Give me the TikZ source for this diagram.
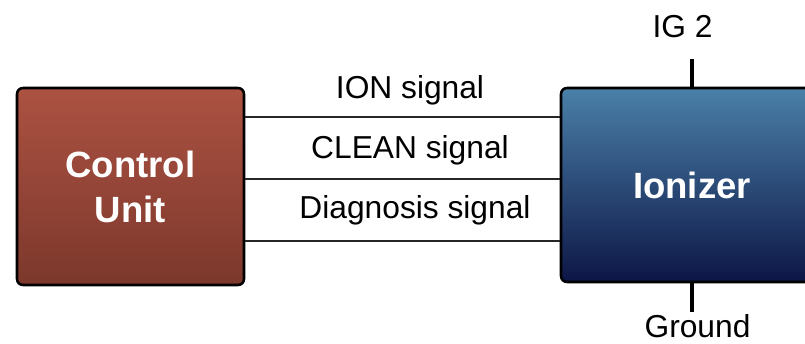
\documentclass[tikz,border=0pt]{standalone}
\usepackage{fontspec}
\setmainfont{Liberation Sans}
\usetikzlibrary{calc}

\definecolor{ctrlTop}{RGB}{172,82,66}
\definecolor{ctrlBot}{RGB}{124,56,44}
\definecolor{ionTop}{RGB}{74,128,168}
\definecolor{ionBot}{RGB}{13,22,70}

\tikzset{
  unitbox/.style={draw=black, line width=1.9pt, rounded corners=4.5pt,
    text=white, align=center, inner sep=0pt,
    font=\fontsize{27.4}{33.75}\selectfont\bfseries},
  siglabel/.style={anchor=base, inner sep=0pt,
    font=\fontsize{23.8}{28}\selectfont},
  sigline/.style={line width=1.1pt, draw=black!85},
  pinline/.style={line width=3pt}
}

\begin{document}
\begin{tikzpicture}[x=0.75pt,y=-0.75pt]
    \useasboundingbox (0,0) rectangle (805,343);
    \clip (0,0) rectangle (805,343);
    % the two units
    \node[unitbox, top color=ctrlTop, bottom color=ctrlBot,
        minimum width=170.25pt, minimum height=147.75pt] (ctrl) at (130.5,186.5) {Control\\Unit};
    \node[unitbox, top color=ionTop, bottom color=ionBot,
        minimum width=196.5pt, minimum height=145.5pt] (ionizer) at (692,185) {Ionizer};
    % signal lines
    \foreach \y in {117, 179, 241}
        \draw[sigline] (ctrl.east |- 0,\y) -- (ionizer.west |- 0,\y);
    \node[siglabel] (ionsig) at (410,98) {ION signal};
    \node[siglabel] (cleansig) at (410,158) {CLEAN signal};
    \node[siglabel] (diagsig) at (415,218) {Diagnosis signal};
    % supply and ground
    \node[siglabel] (ig) at (682.5,37) {IG 2};
    \node[siglabel] (gnd) at (697.5,337) {Ground};
    \draw[pinline] ([yshift=-1pt]ionizer.north) -- (ionizer.north |- 0,59);
    \draw[pinline] ([yshift=1pt]ionizer.south) -- (ionizer.south |- 0,312);
\end{tikzpicture}
\end{document}
